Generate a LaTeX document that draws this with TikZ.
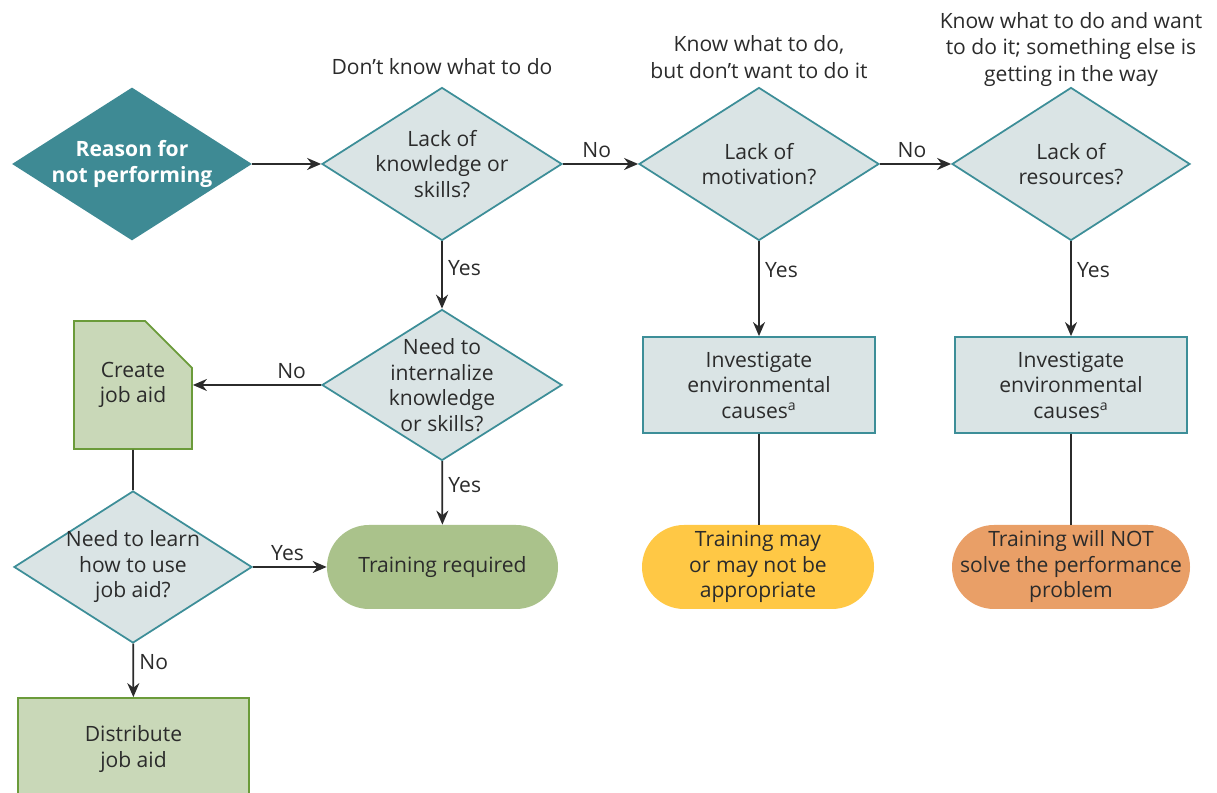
\documentclass[tikz,border=0pt]{standalone}
\usepackage{fontspec}
\setmainfont{Open Sans}
\usetikzlibrary{shapes.geometric,shapes.misc,arrows.meta,positioning}
\definecolor{tealdark}{HTML}{3E8A94}
\definecolor{tealline}{HTML}{3D8E98}
\definecolor{tealpale}{HTML}{DAE4E5}
\definecolor{greenpale}{HTML}{C9D8B8}
\definecolor{greenline}{HTML}{6B9B3A}
\definecolor{greenmid}{HTML}{AAC28B}
\definecolor{yellowend}{HTML}{FFC845}
\definecolor{orangeend}{HTML}{E99F67}
\definecolor{inkgrey}{HTML}{2B2B2B}

\begin{document}
\begin{tikzpicture}[
	font=\fontsize{12}{14.5}\selectfont,
	decision/.style={diamond, aspect=1.57, inner sep=-2pt, minimum width=4.8cm,
		minimum height=3.06cm, align=center, draw=tealline, line width=1pt,
		fill=tealpale, text=inkgrey},
	action/.style={rectangle, align=center, draw=tealline, line width=1pt,
		fill=tealpale, text=inkgrey, minimum width=4.64cm, minimum height=1.92cm},
	aidbox/.style={align=center, draw=greenline, line width=1pt, fill=greenpale,
		text=inkgrey},
	outcome/.style={rectangle, rounded corners=0.84cm, align=center, text=inkgrey,
		minimum height=1.68cm},
	caption/.style={align=center, text=inkgrey, font=\fontsize{12}{15}\selectfont},
	flow/.style={-{Stealth[length=2.8mm,width=2.4mm]}, line width=1pt, draw=inkgrey},
	link/.style={line width=1pt, draw=inkgrey},
	answer/.style={text=inkgrey, inner sep=3pt}
	]
	\useasboundingbox (0,0) rectangle (24.34,15.86);
	
	% top row
	\node[diamond, aspect=1.57, inner sep=-2pt, minimum width=4.8cm, minimum height=3.06cm,
		fill=tealdark, align=center, text=white, font=\fontsize{12}{14.5}\selectfont\bfseries]
		(reason) at (2.64,12.58) {Reason for\\not performing};
	\node[decision] (knowledge) at (8.84,12.58) {Lack of\\knowledge or\\skills?};
	\node[decision] (motivation) at (15.18,12.58) {Lack of\\motivation?};
	\node[decision, minimum width=4.76cm] (resources) at (21.42,12.58) {Lack of\\resources?};
	
	\node[caption, above=0.12cm of knowledge] (dontknow) {Don’t know what to do};
	\node[caption, above=0.04cm of motivation] (dontwant) {Know what to do,\\but don’t want to do it};
	\node[caption, above=-0.12cm of resources] (inway) {Know what to do and want\\to do it; something else is\\getting in the way};
	
	% second row
	\node[decision, minimum height=3.02cm] (internalize) at (8.84,8.16) {Need to\\internalize\\knowledge\\or skills?};
	\node[aidbox, chamfered rectangle, chamfered rectangle corners=north east,
		chamfered rectangle xsep=0.56cm, chamfered rectangle ysep=0.48cm,
		minimum width=2.36cm, minimum height=2.56cm, inner sep=0pt]
		(create) at (2.66,8.16) {Create\\job aid};
	\node[action] (envA) at (15.18,8.16) {Investigate\\environmental\\causes\textsuperscript{a}};
	\node[action] (envB) at (21.42,8.16) {Investigate\\environmental\\causes\textsuperscript{a}};
	
	% third row
	\node[decision, minimum width=4.76cm, minimum height=3.04cm] (learn) at (2.66,4.52) {Need to learn\\how to use\\job aid?};
	\node[outcome, fill=greenmid, minimum width=4.62cm] (required) at (8.85,4.52) {Training required};
	\node[outcome, fill=yellowend, minimum width=4.64cm] (maybe) at (15.16,4.52) {Training may\\or may not be\\appropriate};
	\node[outcome, fill=orangeend, minimum width=4.76cm] (wontsolve) at (21.42,4.52) {Training will NOT\\solve the performance\\problem};
	
	% bottom
	\node[aidbox, rectangle, minimum width=4.62cm, minimum height=2.04cm] (distribute) at (2.67,0.88) {Distribute\\job aid};
	
	% connectors
	\draw[flow] (reason) -- (knowledge);
	\draw[flow] (knowledge) -- node[answer, above, pos=0.45] {No} (motivation);
	\draw[flow] (motivation) -- node[answer, above, pos=0.45] {No} (resources);
	\draw[flow] (knowledge) -- node[answer, right, pos=0.4] {Yes} (internalize);
	\draw[flow] (motivation) -- node[answer, right, pos=0.3] {Yes} (envA);
	\draw[flow] (resources) -- node[answer, right, pos=0.3] {Yes} (envB);
	\draw[flow] (internalize) -- node[answer, above, pos=0.23] {No} (create);
	\draw[flow] (internalize) -- node[answer, right, pos=0.38] {Yes} (required);
	\draw[link] (create) -- (learn);
	\draw[flow] (learn) -- node[answer, above, pos=0.47] {Yes} (required);
	\draw[flow] (learn) -- node[answer, right, pos=0.35] {No} (distribute);
	\draw[link] (envA) -- (envA |- maybe.north);
	\draw[link] (envB) -- (wontsolve);
	
\end{tikzpicture}
\end{document}
